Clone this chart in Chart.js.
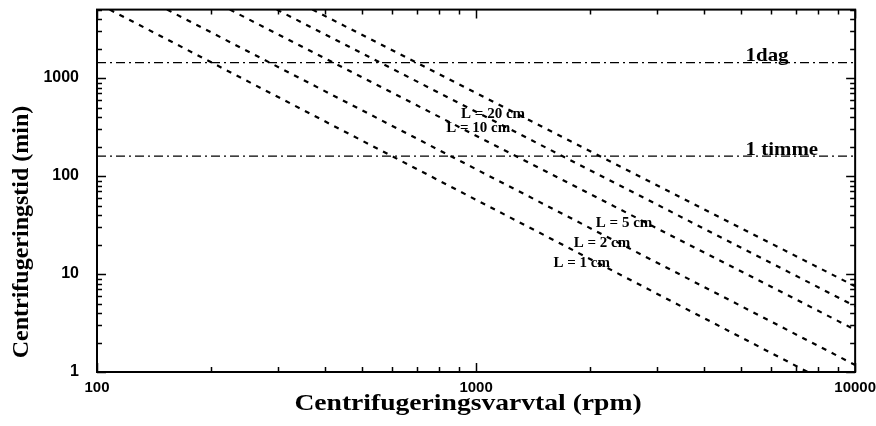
<!DOCTYPE html>
<html>
<head>
<meta charset="utf-8">
<script src="https://cdn.jsdelivr.net/npm/chart.js@4.4.1/dist/chart.umd.min.js"></script>
<style>
body { margin: 0; background: #fff; }
#wrap { width: 876px; height: 426px; }
</style>
</head>
<body>
<div id="wrap"><canvas id="chart" width="876" height="426"></canvas></div>
<script>
// kurvor: centrifugeringstid mot varvtal, en per längd L
var seriesNames = ['L = 1 cm', 'L = 2 cm', 'L = 5 cm', 'L = 10 cm', 'L = 20 cm'];
var startRpm = [108, 153, 224, 298, 370];
var startMin = [5000, 5000, 5000, 5000, 5000];
var endRpm = [7500, 10000, 10000, 10000, 10000];
var endMin = [1, 1.18, 2.7, 4.7, 7.5];

// var etiketterna står (rpm, min)
var labelRpm = [1600, 1810, 2070, 834, 913];
var labelMin = [11.7, 18.7, 30, 279, 387];

// referenslinjer
var refNames = ['1dag', '1 timme'];
var refMin = [1440, 160];
var refLabelRpm = [5140, 5140];
var refLabelMin = [1510, 163];

var xTicks = [100, 1000, 10000];
var yTicks = [1, 10, 100, 1000];
var xMin = 100, xMax = 10000;
var yMin = 1, yMax = 5000;

var xTitle = 'Centrifugeringsvarvtal (rpm)';
var yTitle = 'Centrifugeringstid (min)';

var datasets = [];
for (var i = 0; i < seriesNames.length; i++) {
    datasets.push({
        label: seriesNames[i],
        data: [{x: startRpm[i], y: startMin[i]}, {x: endRpm[i], y: endMin[i]}],
        borderColor: '#000',
        borderWidth: 2.2,
        borderDash: [5, 6],
        pointRadius: 0,
        fill: false
    });
}
for (var j = 0; j < refNames.length; j++) {
    datasets.push({
        label: refNames[j],
        data: [{x: xMin, y: refMin[j]}, {x: xMax, y: refMin[j]}],
        borderColor: '#000',
        borderWidth: 1.3,
        borderDash: [9, 4, 2, 4],
        pointRadius: 0,
        fill: false
    });
}

// texten är lite utdragen i bredd i originalet
function wideText(ctx, text, x, y, sx) {
    ctx.save();
    ctx.translate(x, y);
    ctx.scale(sx, 1);
    ctx.fillText(text, 0, 0);
    ctx.restore();
}

// ram, inåtvända streck och texter
var framePlugin = {
    id: 'frame',
    afterDraw: function(chart) {
        var ctx = chart.ctx;
        var xs = chart.scales.x, ys = chart.scales.y;
        var a = chart.chartArea;
        ctx.save();
        ctx.strokeStyle = '#000';
        ctx.lineWidth = 2;
        ctx.strokeRect(a.left, a.top, a.right - a.left, a.bottom - a.top);

        ctx.lineWidth = 1.5;
        ctx.beginPath();
        for (var d = 1; d <= 1000; d *= 10) {
            for (var m = 1; m <= 9; m++) {
                var v = d * m;
                if (v > yMax) break;
                var len = m === 1 ? 9 : 5;
                var py = Math.round(ys.getPixelForValue(v)) + 0.5;
                ctx.moveTo(a.left, py); ctx.lineTo(a.left + len, py);
                ctx.moveTo(a.right, py); ctx.lineTo(a.right - len, py);
            }
        }
        for (var d2 = 100; d2 <= 10000; d2 *= 10) {
            for (var m2 = 1; m2 <= 9; m2++) {
                var v2 = d2 * m2;
                if (v2 > xMax) break;
                var len2 = m2 === 1 ? 9 : 5;
                var px = Math.round(xs.getPixelForValue(v2)) + 0.5;
                ctx.moveTo(px, a.bottom); ctx.lineTo(px, a.bottom - len2);
                ctx.moveTo(px, a.top); ctx.lineTo(px, a.top + len2);
            }
        }
        ctx.stroke();

        ctx.fillStyle = '#000';
        ctx.textAlign = 'left';
        ctx.textBaseline = 'alphabetic';
        ctx.font = 'bold 15px "Liberation Serif"';
        for (var i = 0; i < seriesNames.length; i++) {
            ctx.fillText(seriesNames[i], xs.getPixelForValue(labelRpm[i]), ys.getPixelForValue(labelMin[i]));
        }
        ctx.font = 'bold 19px "Liberation Serif"';
        for (var j = 0; j < refNames.length; j++) {
            wideText(ctx, refNames[j], xs.getPixelForValue(refLabelRpm[j]), ys.getPixelForValue(refLabelMin[j]), 1.1);
        }

        // axeltitlar
        ctx.font = 'bold 24px "Liberation Serif"';
        ctx.textAlign = 'center';
        ctx.textBaseline = 'middle';
        wideText(ctx, xTitle, 468, 404, 1.15);
        ctx.translate(22, 232);
        ctx.rotate(-Math.PI / 2);
        ctx.fillText(yTitle, 0, 0);
        ctx.restore();
    }
};

new Chart(document.getElementById('chart').getContext('2d'), {
    type: 'line',
    data: {datasets: datasets},
    options: {
        responsive: false,
        animation: false,
        layout: {padding: {top: 9, right: 19, left: 0, bottom: 0}},
        plugins: {legend: {display: false}, tooltip: {enabled: false}},
        scales: {
            x: {
                type: 'logarithmic',
                min: xMin,
                max: xMax,
                grid: {display: true, drawOnChartArea: false, drawTicks: true, tickLength: 7, color: 'rgba(0,0,0,0)'},
                border: {display: false},
                afterBuildTicks: function(s) { s.ticks = xTicks.map(function(v) { return {value: v}; }); },
                afterFit: function(s) { s.height = 54; },
                ticks: {font: {family: 'Liberation Sans', size: 15, weight: 'bold'}, color: '#000', padding: 0,
                    maxRotation: 0, autoSkip: false, callback: function(v) { return String(v); }}
            },
            y: {
                type: 'logarithmic',
                min: yMin,
                max: yMax,
                grid: {display: true, drawOnChartArea: false, drawTicks: true, tickLength: 18, color: 'rgba(0,0,0,0)'},
                border: {display: false},
                afterBuildTicks: function(s) { s.ticks = yTicks.map(function(v) { return {value: v}; }); },
                afterFit: function(s) { s.width = 97; },
                ticks: {font: {family: 'Liberation Sans', size: 16, weight: 'bold'}, color: '#000', padding: 0,
                    autoSkip: false, callback: function(v) { return String(v); }}
            }
        }
    },
    plugins: [framePlugin]
});
</script>
</body>
</html>
